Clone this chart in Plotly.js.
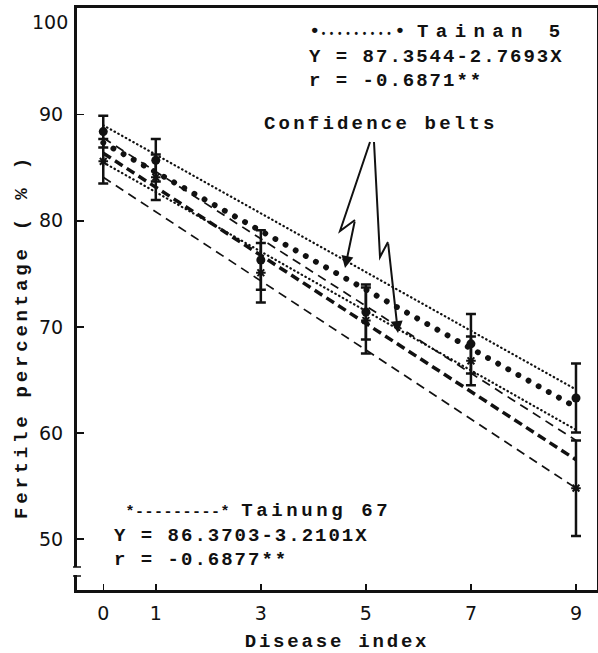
<!DOCTYPE html>
<html>
<head>
<meta charset="utf-8">
<script src="https://cdn.plot.ly/plotly-3.0.1.min.js"></script>
<style>html,body{margin:0;padding:0;background:#fff;}#chart{width:598px;height:653px;}</style>
</head>
<body>
<div id="chart"></div>
<script>
// ---- data ----
const diseaseIndex = [0, 1, 3, 5, 7, 9];
const tainan5Mean = [88.4, 85.7, 76.3, 71.4, 68.4, 63.3];
const tainan5Err = [1.5, 2.0, 2.8, 2.6, 2.8, 3.25];
const tainung67Mean = [85.6, 84.1, 75.1, 70.6, 66.8, 54.8];
const tainung67Err = [2.1, 2.15, 2.8, 3.1, 2.3, 4.5];

const fitX = [0, 9];
const tainan5Fit = [87.35, 62.43];
const tainan5BeltUpper = [89.0, 64.1];
const tainan5BeltLower = [85.5, 60.3];
const tainung67Fit = [86.37, 57.48];
const tainung67BeltUpper = [87.8, 59.3];
const tainung67BeltLower = [84.1, 54.8];

const xTickVals = [0, 1, 3, 5, 7, 9];
const yTickVals = [50, 60, 70, 80, 90];
const yTopLabel = '100';

// ---- layout helpers (pixel -> paper) ----
const M = {l: 77, r: 1, t: 8, b: 63};
const W = 598, H = 653;
const PW = W - M.l - M.r, PH = H - M.t - M.b;
const px = v => (v - M.l) / PW;
const py = v => (H - M.b - v) / PH;

const mono = 'Liberation Mono, Courier New, monospace';
const black = '#111';
const FS = 19;

const traces = [
  // Tainan 5 confidence belt (thin dots)
  {x: fitX, y: tainan5BeltUpper, mode: 'lines', line: {color: black, width: 2.2, dash: '0.5px,3.8px'}, hoverinfo: 'skip'},
  {x: fitX, y: tainan5BeltLower, mode: 'lines', line: {color: black, width: 2.2, dash: '0.5px,3.8px'}, hoverinfo: 'skip'},
  // Tainung 67 confidence belt (thin dashes)
  {x: fitX, y: tainung67BeltUpper, mode: 'lines', line: {color: black, width: 1.7, dash: '9px,6px'}, hoverinfo: 'skip'},
  {x: fitX, y: tainung67BeltLower, mode: 'lines', line: {color: black, width: 1.7, dash: '9px,6px'}, hoverinfo: 'skip'},
  // regression lines
  {x: fitX, y: tainan5Fit, mode: 'lines', line: {color: black, width: 5.8, dash: '0.1px,11.5px'}, name: 'Tainan 5 fit'},
  {x: fitX, y: tainung67Fit, mode: 'lines', line: {color: black, width: 3.5, dash: '9px,5px'}, name: 'Tainung 67 fit'},
  // means with error bars
  {x: diseaseIndex, y: tainan5Mean, mode: 'markers', name: 'Tainan 5',
   marker: {symbol: 'circle', size: 9, color: black},
   error_y: {type: 'data', array: tainan5Err, visible: true, color: black, thickness: 2.5, width: 5}},
  {x: diseaseIndex, y: tainung67Mean, mode: 'markers', name: 'Tainung 67',
   marker: {symbol: 'asterisk-open', size: 8, color: black, line: {color: black, width: 2}},
   error_y: {type: 'data', array: tainung67Err, visible: true, color: black, thickness: 2.5, width: 5}}
];

const sp = (s, ls) => '<span style="letter-spacing:' + ls + 'px">' + s + '</span>';
const sz = (s, size, ls) => '<span style="font-size:' + size + 'px;letter-spacing:' + (ls || 0) + 'px">' + s + '</span>';

function txt(text, xPix, yPix, size, extra) {
  return Object.assign({
    text: text, xref: 'paper', yref: 'paper', x: px(xPix), y: py(yPix),
    xanchor: 'left', yanchor: 'middle', align: 'left', showarrow: false,
    font: {family: mono, size: size, color: black, weight: 700}
  }, extra || {});
}

const tainan5Sample = sz('•', 19) + sz('•••••••••', 10, 2.2) + sz('•', 19);
const tainung67Sample = sz('*---------*', 15, 0.5);

const annotations = [
  txt(tainan5Sample + ' ' + sp('Tainan 5', 7.4) + '<br>' +
      sp('Y = 87.3544-2.7693X', 2) + '<br>' +
      sp('r = -0.6871**', 2), 307, 56.5, FS),
  txt(sp('Confidence belts', 3.2), 262, 124, FS),
  txt('\u00A0' + tainung67Sample + ' ' + sp('Tainung 67', 3.6) + '<br>' +
      sp('Y = 86.3703-3.2101X', 2) + '<br>' +
      sp('r = -0.6877**', 2), 112, 535, FS),
  txt(sp('Fertile percentage ( % )', 3.8), 22, 337, FS,
      {textangle: -90, xanchor: 'center', yanchor: 'middle'}),
  // top tick label of the y axis, placed where the figure prints it
  {text: yTopLabel, xref: 'paper', yref: 'paper', x: px(70), y: py(22), xanchor: 'right', yanchor: 'middle',
   showarrow: false, font: {family: 'DejaVu Sans', size: 19, color: black}},
  // arrow heads of the two lightning arrows
  {xref: 'paper', yref: 'paper', x: px(345), y: py(268), ax: 10, ay: -48, text: '',
   showarrow: true, arrowhead: 2, arrowsize: 1.2, arrowwidth: 2, arrowcolor: black},
  {xref: 'paper', yref: 'paper', x: px(398), y: py(333), ax: -10, ay: -91, text: '',
   showarrow: true, arrowhead: 2, arrowsize: 1.2, arrowwidth: 2, arrowcolor: black}
];

function pathFrom(pts) {
  return pts.map((p, i) => (i ? 'L' : 'M') + px(p[0]) + ',' + py(p[1])).join(' ');
}

const shapes = [
  {type: 'path', xref: 'paper', yref: 'paper', path: pathFrom([[370, 142], [340, 231], [355, 220]]),
   line: {color: black, width: 2}},
  {type: 'path', xref: 'paper', yref: 'paper', path: pathFrom([[374, 142], [380, 257], [388, 242]]),
   line: {color: black, width: 2}},
  // break in the y axis near the origin
  {type: 'rect', xref: 'paper', yref: 'paper', x0: px(72), x1: px(83), y0: py(575), y1: py(567),
   fillcolor: '#fff', line: {width: 0}, layer: 'above'},
  {type: 'line', xref: 'paper', yref: 'paper', x0: px(73), x1: px(81), y0: py(567), y1: py(567),
   line: {color: black, width: 1.5}, layer: 'above'},
  {type: 'line', xref: 'paper', yref: 'paper', x0: px(73), x1: px(81), y0: py(576), y1: py(576),
   line: {color: black, width: 1.5}, layer: 'above'}
];

const layout = {
  width: W, height: H, margin: M,
  paper_bgcolor: '#fff', plot_bgcolor: '#fff',
  showlegend: false,
  xaxis: {
    range: [-0.5, 9.4], tickvals: xTickVals, ticks: 'inside', ticklen: 6, tickwidth: 1.5, tickcolor: black,
    showline: true, linewidth: 3, linecolor: black, mirror: true, showgrid: false, zeroline: false,
    tickfont: {family: 'DejaVu Sans', size: 19, color: black}, ticklabelstandoff: 4,
    title: {text: sp('Disease index', 2.8), font: {family: mono, size: FS, color: black, weight: 700}, standoff: 14}
  },
  yaxis: {
    range: [45.2, 100.05], tickvals: yTickVals, ticks: 'inside', ticklen: 7, tickwidth: 1.5, tickcolor: black,
    showline: true, linewidth: 3, linecolor: black, mirror: true, showgrid: false, zeroline: false,
    tickfont: {family: 'DejaVu Sans', size: 19, color: black}, ticklabelstandoff: 7
  },
  annotations: annotations,
  shapes: shapes
};

Plotly.newPlot('chart', traces, layout, {staticPlot: true}).then(function () {
  const tr = document.querySelectorAll('.scatterlayer .trace');
  [0, 1, 4].forEach(function (i) {
    if (tr[i]) tr[i].querySelectorAll('path.js-line').forEach(function (p) {
      p.style.strokeLinecap = 'round';
    });
  });
});
</script>
</body>
</html>
